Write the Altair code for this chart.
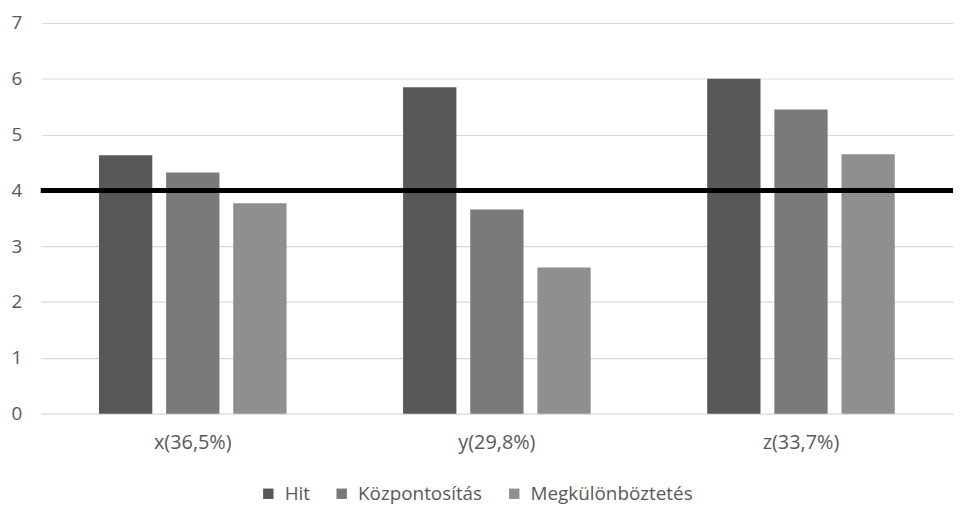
import altair as alt
import pandas as pd

groups = ["x(36,5%)", "y(29,8%)", "z(33,7%)"]
series = ["Hit", "Központosítás", "Megkülönböztetés"]
hit = [4.63, 5.85, 6.0]
kozp = [4.32, 3.66, 5.45]
megk = [3.77, 2.62, 4.65]
threshold = [4]

rows = []
for i, g in enumerate(groups):
    for s, vals in zip(series, [hit, kozp, megk]):
        rows.append({"group": g, "series": s, "value": vals[i]})
df = pd.DataFrame(rows)
thr = pd.DataFrame({"t": threshold})

colors = ["#585858", "#7a7a7a", "#8f8f8f"]
FONT = "Open Sans"

bars = alt.Chart(df).mark_bar().encode(
    x=alt.X("group:N", sort=groups, title=None,
            scale=alt.Scale(paddingInner=0, paddingOuter=0),
            axis=alt.Axis(labelAngle=0, ticks=False, domain=False, labelFontSize=20,
                          labelColor="#595959", labelFont=FONT, labelPadding=19)),
    xOffset=alt.XOffset("series:N", sort=series,
                        scale=alt.Scale(paddingInner=0.206, paddingOuter=0.868)),
    y=alt.Y("value:Q", title=None,
            scale=alt.Scale(domain=[0, 7], nice=False),
            axis=alt.Axis(values=[0, 1, 2, 3, 4, 5, 6, 7], format="d", ticks=False, domain=False,
                          labelFontSize=19, labelColor="#595959", labelFont=FONT,
                          labelPadding=19, gridColor="#d9d9d9", gridWidth=1.2)),
    color=alt.Color("series:N", sort=series,
                    scale=alt.Scale(domain=series, range=colors),
                    legend=alt.Legend(title=None, orient="none", direction="horizontal",
                                      legendX=220, legendY=465, symbolType="square",
                                      symbolSize=110, symbolStrokeWidth=0,
                                      labelFontSize=19, labelColor="#595959",
                                      labelFont=FONT, columnPadding=22, labelOffset=7,
                                      labelLimit=400, symbolOpacity=1)),
)

rule = alt.Chart(thr).mark_rule(color="black", strokeWidth=5).encode(
    y=alt.Y("t:Q")
)

chart = alt.layer(bars, rule).properties(
    width=920, height=394,
    autosize=alt.AutoSizeParams(type="none"),
    padding={"left": 33, "top": 13, "right": 5, "bottom": 92},
    background="white",
).configure_view(stroke=None)

chart.save("out.html", embed_options={"renderer": "svg", "actions": False})
